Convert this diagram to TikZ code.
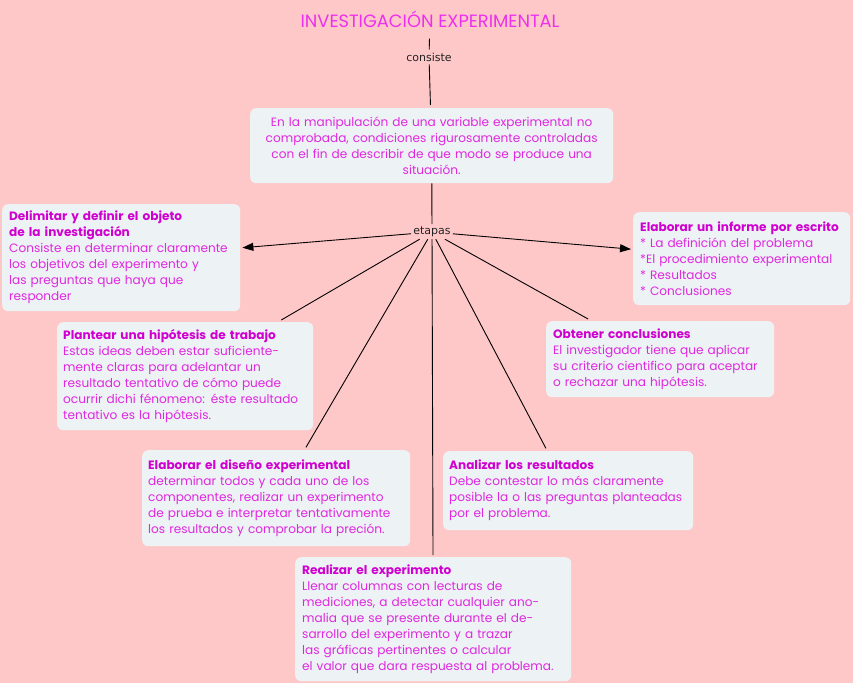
\documentclass[tikz,border=0pt]{standalone}
\usepackage{fontspec}
\setmainfont{Poppins}
\newfontfamily\lblfont{DejaVu Sans}
\usetikzlibrary{arrows.meta}
\definecolor{bg}{HTML}{FFC8C8}
\definecolor{boxc}{HTML}{EDF2F4}
\definecolor{mag}{HTML}{E028E0}
\definecolor{magb}{HTML}{D000D0}
\definecolor{ttl}{HTML}{EE30EE}
\definecolor{lbl}{HTML}{222222}
\begin{document}
\begin{tikzpicture}[x=1pt,y=-1pt,
  box/.style={fill=boxc, rounded corners=6pt, anchor=north west, inner sep=0pt,
    text=mag, align=left, font=\fontsize{12.1}{16}\selectfont},
  lbltext/.style={text=lbl, font=\lblfont\fontsize{11}{13}\selectfont, inner sep=2pt},
  conn/.style={draw=black, line width=0.9pt},
  arr/.style={conn, -{Triangle[length=11pt,width=8pt]}}]
\fill[bg] (0,0) rectangle (853,683);
\useasboundingbox (0,0) rectangle (853,683);

\node[text=ttl, font=\fontsize{17.8}{20}\selectfont, inner sep=0pt] (title) at (430,19) {INVESTIGACIÓN EXPERIMENTAL};
\node[lbltext] (consiste) at (429,57) {consiste};
\node[lbltext] (etapas) at (432,232) {etapas};

\newcommand\hdtext[1]{{\bfseries\color{magb}#1}}

\node[box, align=center, minimum width=363pt, minimum height=75pt, text width=357pt] (def) at (250,108)
 {En la manipulación de una variable experimental no\\ comprobada, condiciones rigurosamente controladas\\ con el fin de describir de que modo se produce una\\ situación.};

\node[box, minimum width=238pt, minimum height=107pt, text width=224pt] (del) at (2,204)
 {\hdtext{Delimitar y definir el objeto\\ de la investigación}\\ Consiste en determinar claramente\\ los objetivos del experimento y\\ las preguntas que haya que\\ responder};

\node[box, minimum width=217pt, minimum height=93pt, text width=203pt] (inf) at (633,212)
 {\hdtext{Elaborar un informe por escrito}\\{}* La definición del problema\\{}*El procedimiento experimental\\{}* Resultados\\{}* Conclusiones};

\node[box, minimum width=256pt, minimum height=108pt, text width=244pt] (pla) at (57,322)
 {\hdtext{Plantear una hipótesis de trabajo}\\ Estas ideas deben estar suficiente-\\ mente claras para adelantar un\\ resultado tentativo de cómo puede\\ ocurrir dichi fénomeno: éste resultado\\ tentativo es la hipótesis.};

\node[box, minimum width=228pt, minimum height=76pt, text width=214pt] (obt) at (546,321)
 {\hdtext{Obtener conclusiones}\\ El investigador tiene que aplicar\\ su criterio cientifico para aceptar\\ o rechazar una hipótesis.};

\node[box, minimum width=268pt, minimum height=96pt, text width=256pt] (dis) at (142,450)
 {\hdtext{Elaborar el diseño experimental}\\ determinar todos y cada uno de los\\ componentes, realizar un experimento\\ de prueba e interpretar tentativamente\\ los resultados y comprobar la preción.};

\node[box, minimum width=250pt, minimum height=79pt, text width=238pt] (ana) at (443,451)
 {\hdtext{Analizar los resultados}\\ Debe contestar lo más claramente\\ posible la o las preguntas planteadas\\ por el problema.};

\node[box, minimum width=276pt, minimum height=124pt, text width=262pt] (rea) at (295,557)
 {\hdtext{Realizar el experimento}\\ Llenar columnas con lecturas de\\ mediciones, a detectar cualquier ano-\\ malia que se presente durante el de-\\ sarrollo del experimento y a trazar\\ las gráficas pertinentes o calcular\\ el valor que dara respuesta al problema.};

\draw[conn, shorten <=11pt, shorten >=1pt] (title) -- (consiste);
\draw[conn, shorten <=1pt, shorten >=3pt] (consiste) -- (def);
\draw[conn, shorten >=1pt] (def) -- (etapas);
\draw[arr, shorten >=2pt] (etapas) -- (del);
\draw[arr, shorten >=2pt] (etapas) -- (inf);
\draw[conn, shorten >=4pt] (etapas) -- (pla);
\draw[conn, shorten >=4pt] (etapas) -- (obt);
\draw[conn, shorten >=3pt] (etapas) -- (dis);
\draw[conn, shorten >=3pt] (etapas) -- (ana);
\draw[conn, shorten >=2pt] (etapas) -- (rea);
\end{tikzpicture}
\end{document}
